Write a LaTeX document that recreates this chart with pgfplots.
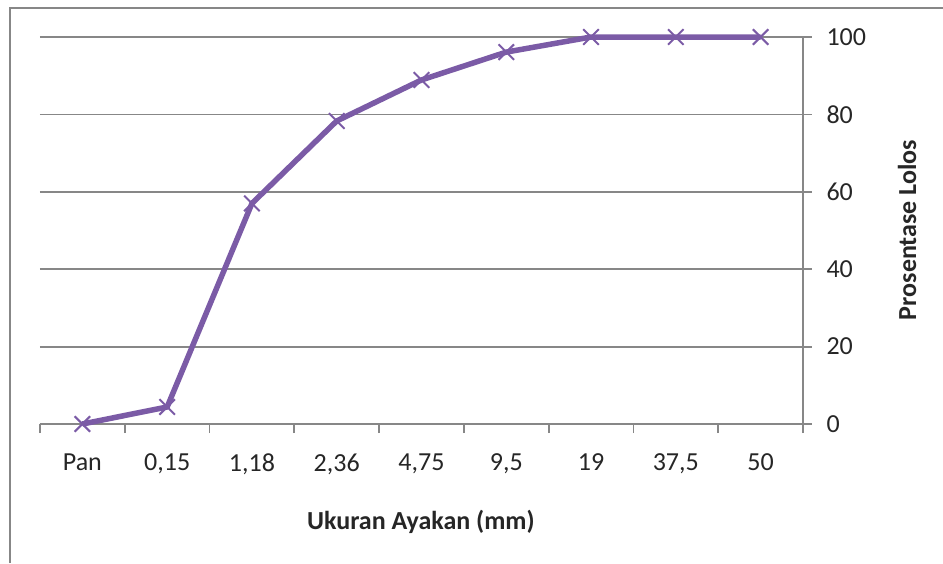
\documentclass[border=0pt]{standalone}
\usepackage{pgfplots}
\pgfplotsset{compat=1.18}
\usepackage{fontspec}
\setmainfont{Carlito}
\definecolor{linec}{HTML}{7B5BA6}
\definecolor{gridc}{HTML}{878787}
\begin{document}
\begin{tikzpicture}[x=1pt,y=1pt]
\useasboundingbox (-40,-139) rectangle (903,424);
\draw[gridc,line width=2pt] (-30,-139) -- (-30,416) -- (903,416);
\begin{axis}[
  at={(0,0)}, anchor=south west,
  scale only axis, width=763pt, height=387pt,
  xmin=-0.5, xmax=8.5, ymin=0, ymax=100,
  axis y line*=right, axis x line*=bottom,
  axis line style={gridc, line width=1.8pt},
  xtick={0,...,8},
  xticklabels={Pan,{0,15},{1,18},{2,36},{4,75},{9,5},19,{37,5},50},
  minor xtick={-0.5,0.5,...,8.5},
  major x tick style={draw=none},
  minor x tick style={gridc, line width=1.8pt},
  minor tick length=9pt,
  ytick={0,20,...,100},
  ymajorgrids,
  grid style={gridc, line width=1.8pt},
  major y tick style={gridc, line width=1.8pt},
  major tick length=9pt, tick align=outside,
  tick label style={font=\fontsize{26}{30}\selectfont, text=black!85},
  xticklabel style={yshift=-17pt},
  yticklabel style={xshift=11pt},
  /pgf/number format/assume math mode=true,
  clip=false,
]
\addplot[linec, line width=5.5pt, line join=round,
  mark=x, mark size=11pt, mark options={line width=2pt, linec}]
coordinates {(0,0) (1,4.4) (2,57) (3,78.3) (4,88.9) (5,96.1) (6,100) (7,100) (8,100)};
\node[font=\bfseries\fontsize{26}{30}\selectfont, text=black!85] at (rel axis cs:0.4993,-0.2532) {Ukuran Ayakan (mm)};
\node[font=\bfseries\fontsize{26}{30}\selectfont, text=black!85, rotate=90] at (rel axis cs:1.1363,0.5012) {Prosentase Lolos};
\end{axis}
\end{tikzpicture}
\end{document}
